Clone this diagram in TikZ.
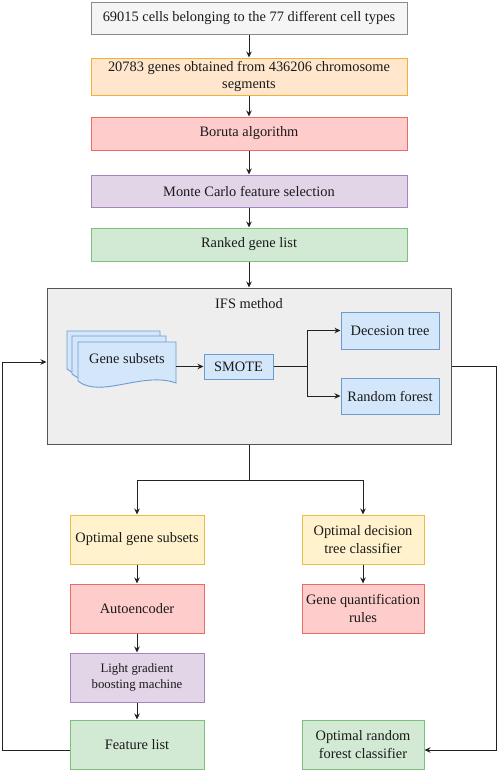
\documentclass[tikz,border=0pt]{standalone}
\usepackage{fontspec}
\setmainfont{Liberation Serif}
\usetikzlibrary{arrows.meta}
\definecolor{grayF}{HTML}{F5F5F5}\definecolor{grayD}{HTML}{8A8A8A}
\definecolor{orF}{HTML}{FFE6CC}\definecolor{orD}{HTML}{F2B134}
\definecolor{redF}{HTML}{FFCCCC}\definecolor{redD}{HTML}{EA6B66}
\definecolor{purF}{HTML}{E1D5E7}\definecolor{purD}{HTML}{A983C0}
\definecolor{grnF}{HTML}{D2EAD4}\definecolor{grnD}{HTML}{7DC17D}
\definecolor{yelF}{HTML}{FFF2CC}\definecolor{yelD}{HTML}{E8BE4A}
\definecolor{bluF}{HTML}{D4E6FA}\definecolor{bluD}{HTML}{6C9BCF}
\definecolor{ifsF}{HTML}{EEEEEE}\definecolor{ifsD}{HTML}{555555}
\definecolor{txt}{HTML}{1A1A1A}\definecolor{ln}{HTML}{222222}
\begin{document}
\begin{tikzpicture}[x=1pt,y=-1pt,
  box/.style={draw, line width=1pt, align=center, inner sep=0pt, text=txt,
    font=\fontsize{14.4}{17.5}\selectfont},
  arr/.style={draw=ln, line width=0.9pt, -{Stealth[length=6pt,width=5.5pt]}},
  lnk/.style={draw=ln, line width=0.9pt},
  docst/.style={draw=bluD, fill=bluF, line width=0.9pt}]
\useasboundingbox (0,0) rectangle (498,771);
% top chain
\node[box, fill=grayF, draw=grayD, minimum width=316pt, minimum height=32pt] (b1) at (249,18) {69015 cells belonging to the 77 different cell types};
\node[box, fill=orF, draw=orD, minimum width=316pt, minimum height=37pt] (b2) at (249,76.5) {20783 genes obtained from 436206 chromosome\\segments};
\node[box, fill=redF, draw=redD, minimum width=316pt, minimum height=33pt] (b3) at (249,133.5) {Boruta algorithm};
\node[box, fill=purF, draw=purD, minimum width=316pt, minimum height=32pt] (b4) at (249,191) {Monte Carlo feature selection};
\node[box, fill=grnF, draw=grnD, minimum width=316pt, minimum height=33pt] (b5) at (249,244.5) {Ranked gene list};
% IFS container
\node[box, fill=ifsF, draw=ifsD, minimum width=404pt, minimum height=156pt] (ifs) at (249,366) {};
\node[text=txt, font=\fontsize{14.4}{17.5}\selectfont] (ifsl) at (249,304) {IFS method};
% document stack
\draw[docst] (67,331) -- (160,331) -- (160,372) .. controls (129,361) and (89,387) .. (67,369) -- cycle;
\draw[docst] (72,336) -- (166,336) -- (166,377) .. controls (135,366) and (94,392) .. (72,374) -- cycle;
\draw[docst] (78,342) -- (176,342) -- (176,383) .. controls (143,371) and (100,399) .. (78,381) -- cycle;
\node[inner sep=0pt, minimum width=98pt, minimum height=41pt, text=txt, font=\fontsize{14.4}{17.5}\selectfont] (gs) at (127,359) {Gene subsets};
\node[box, fill=bluF, draw=bluD, minimum width=69pt, minimum height=25pt] (sm) at (238.5,366.5) {SMOTE};
\node[box, fill=bluF, draw=bluD, minimum width=98pt, minimum height=37pt] (dt) at (390,330.5) {Decesion tree};
\node[box, fill=bluF, draw=bluD, minimum width=98pt, minimum height=36pt] (rf) at (390,396) {Random forest};
% lower boxes
\node[box, fill=yelF, draw=yelD, minimum width=134pt, minimum height=49pt] (ogs) at (137,539.5) {Optimal gene subsets};
\node[box, fill=redF, draw=redD, minimum width=134pt, minimum height=49pt] (ae) at (137,608.5) {Autoencoder};
\node[box, fill=purF, draw=purD, minimum width=134pt, minimum height=49pt, font=\fontsize{12.8}{16}\selectfont] (lg) at (137,677.5) {Light gradient\\boosting machine};
\node[box, fill=grnF, draw=grnD, minimum width=134pt, minimum height=49pt] (fl) at (137,744.5) {Feature list};
\node[box, fill=yelF, draw=yelD, minimum width=122pt, minimum height=49pt] (odt) at (363,539.5) {Optimal decision\\tree classifier};
\node[box, fill=redF, draw=redD, minimum width=122pt, minimum height=49pt] (gq) at (363,608.5) {Gene quantification\\rules};
\node[box, fill=grnF, draw=grnD, minimum width=122pt, minimum height=49pt] (orf) at (363,744.5) {Optimal random\\forest classifier};
% coordinates
\coordinate (sp) at (307,366.5);
\coordinate (jn) at (249,480);
\coordinate (fbL) at (2,750);
\coordinate (fbLt) at (2,362);
\coordinate (fbR) at (496,750);
\coordinate (fbRt) at (496,366);
% connectors
\draw[arr] (b1) -- (b2);
\draw[arr] (b2) -- (b3);
\draw[arr] (b3) -- (b4);
\draw[arr] (b4) -- (b5);
\draw[arr] (b5) -- (ifs);
\draw[arr] (sm.west -| gs.east) -- (sm.west);
\draw[lnk] (sm.east) -- (sp);
\draw[arr] (sp) |- (dt.west);
\draw[arr] (sp) |- (rf.west);
\draw[lnk] (ifs.south) -- (jn);
\draw[arr] (jn) -| (ogs.north);
\draw[arr] (jn) -| (odt.north);
\draw[arr] (ogs) -- (ae);
\draw[arr] (ae) -- (lg);
\draw[arr] (lg) -- (fl);
\draw[arr] (odt) -- (gq);
\draw[arr] (fl.west |- fbL) -- (fbL) -- (fbLt) -- (ifs.west |- fbLt);
\draw[arr] (ifs.east |- fbRt) -- (fbRt) -- (fbR) -- (orf.east |- fbR);
\end{tikzpicture}
\end{document}
